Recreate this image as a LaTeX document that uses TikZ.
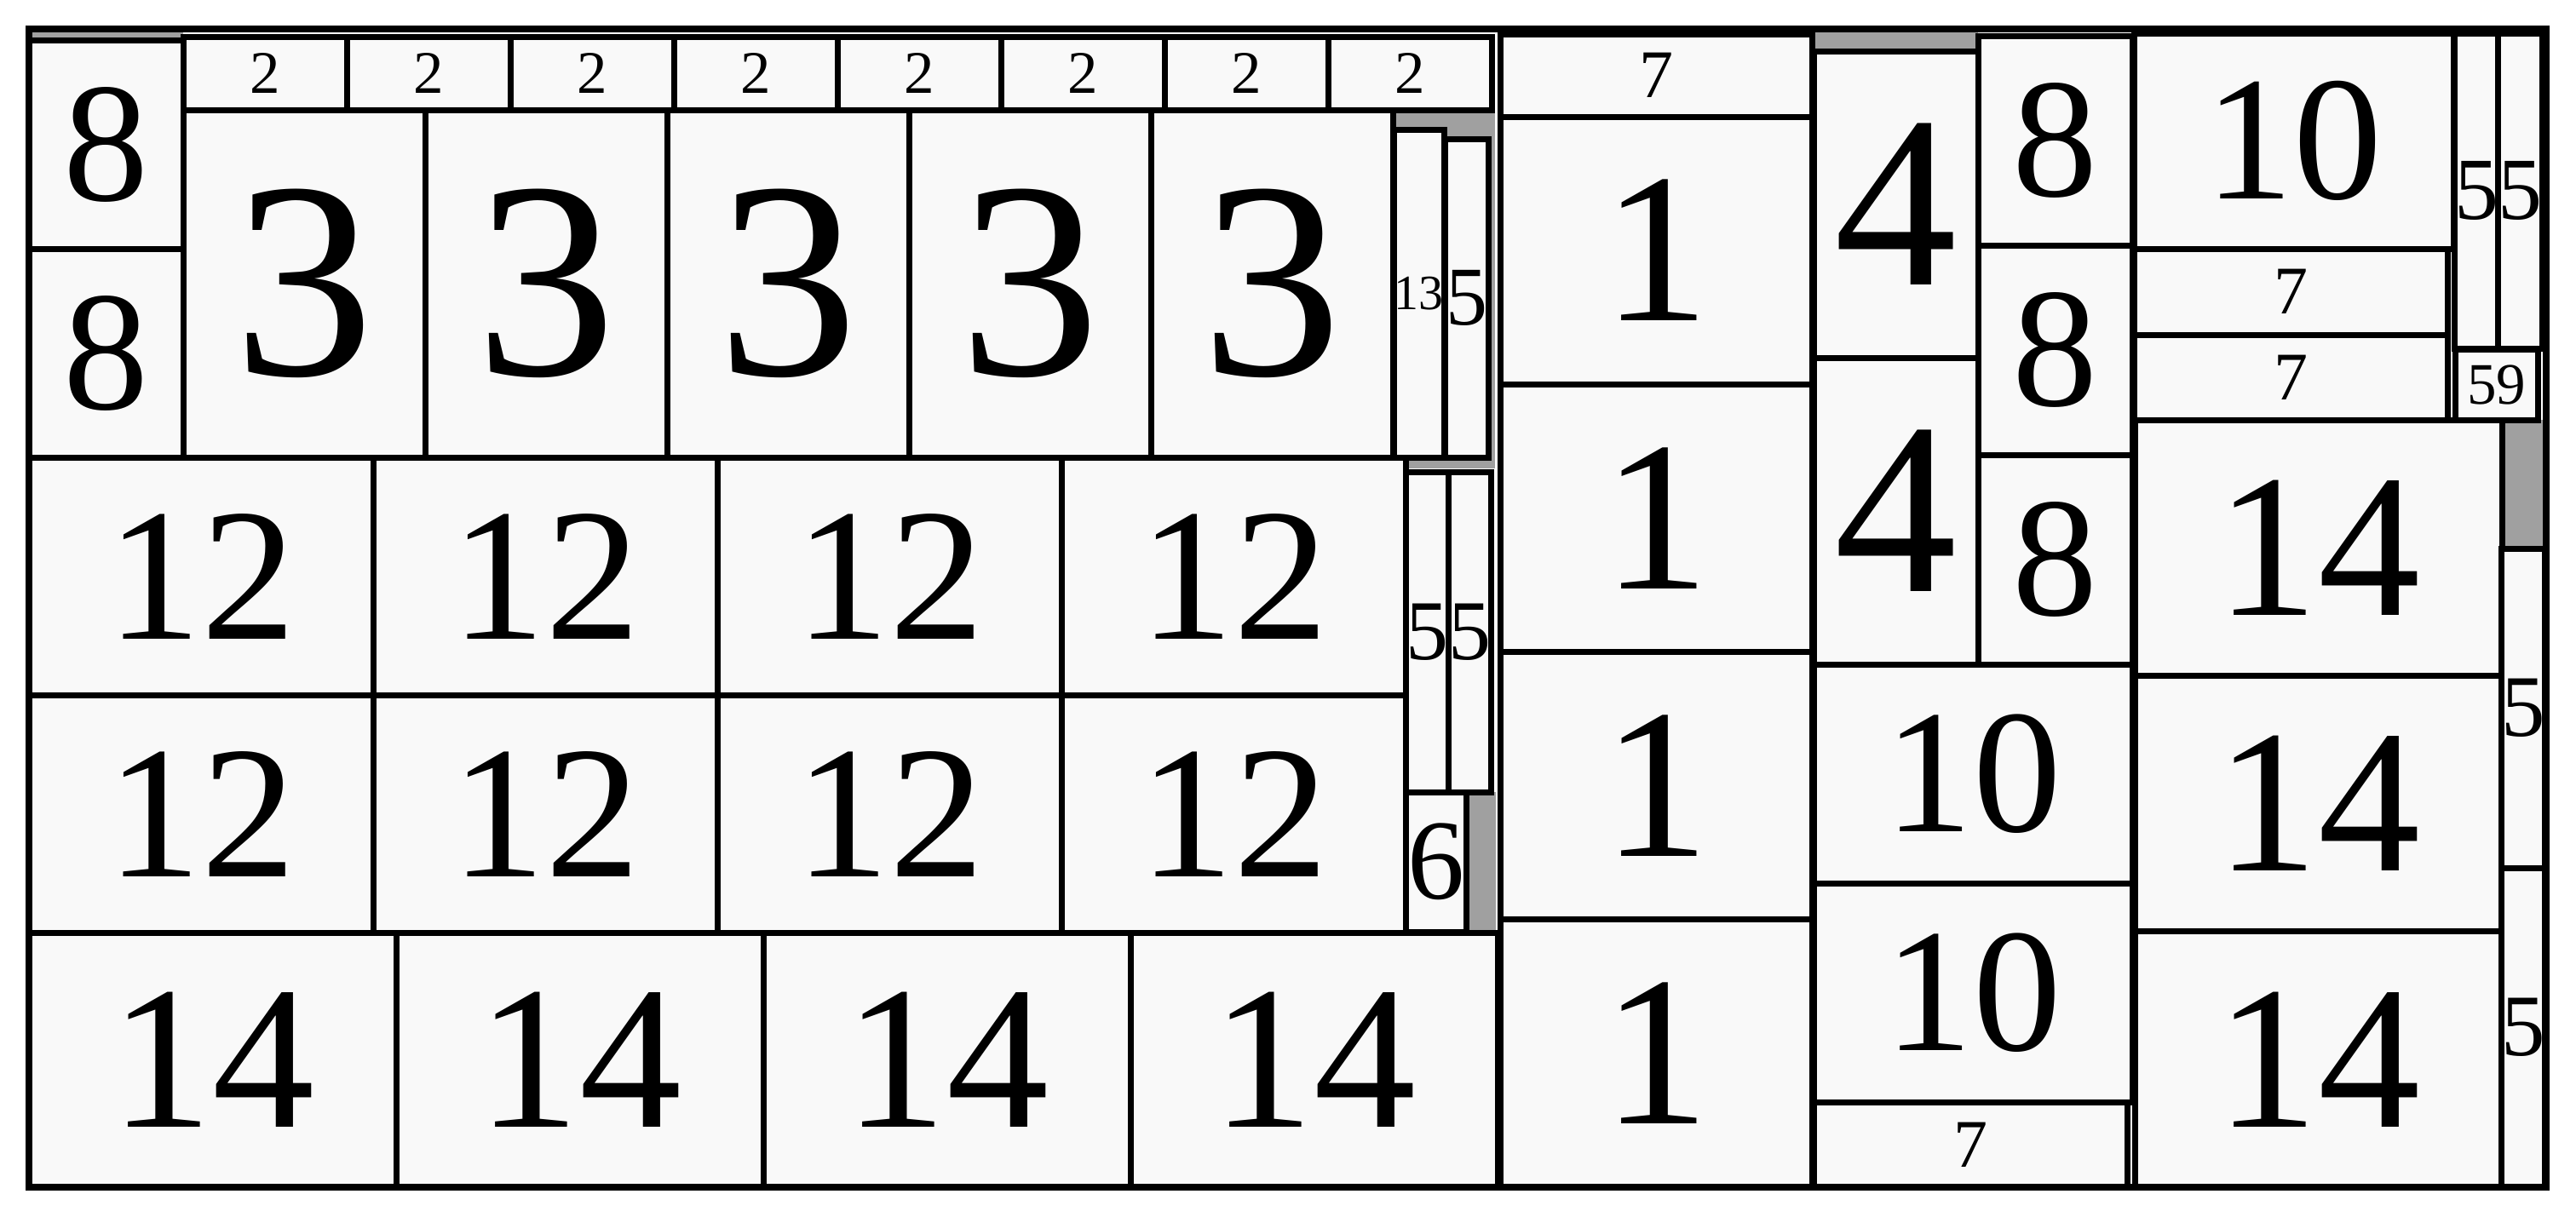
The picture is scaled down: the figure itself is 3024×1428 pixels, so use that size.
\documentclass[tikz,border=0pt]{standalone}
\usepackage{fontspec}
\setmainfont{Liberation Serif}
\newfontfamily\cellfont{Liberation Serif}
\definecolor{cellfill}{RGB}{249,249,249}
\definecolor{blank}{RGB}{160,160,160}
\tikzset{
	cell/.style n args={5}{draw, fill=cellfill, line width=7pt, inner sep=0pt,
		font=\cellfont\fontsize{#5}{#5}\selectfont,
		minimum width={((#3)-(#1))*1pt}, minimum height={((#4)-(#2))*1pt},
		at={({((#1)+(#3))/2},{((#2)+(#4))/2})}},
}
\begin{document}
\begin{tikzpicture}[x=1pt, y=-1pt]
		\path[use as bounding box, fill=white] (0,0) rectangle (3024,1428);
		
		% Blanks
		\fill[blank] (34,36) rectangle (215,47);
		\fill[blank] (1635,132) rectangle (1755,550);
		\fill[blank] (1721,930) rectangle (1756,1094);
		\fill[blank] (2129,36) rectangle (2322,60);
		\fill[blank] (2937,493) rectangle (2987,644);
		
		% Nodes, left block
		\node[cell={34}{47}{215}{292}{200}] (e1) {8};
		\node[cell={34}{292}{215}{537}{200}] (e2) {8};
		\foreach \i in {0,...,7}
			\node[cell={215+192*\i}{43}{407+192*\i}{129}{71}] (two\i) {2};
		\foreach \i in {0,...,4}
			\node[cell={215+284*\i}{129}{499+284*\i}{537}{330}] (three\i) {3};
		\node[cell={1636}{152}{1695}{537}{58}] (thirteen) {13};
		\node[cell={1696}{163}{1747}{537}{98}] (f1) {5};
		\foreach \i in {0,...,3}
			\foreach \j in {0,1}
				\node[cell={34+404*\i}{537+279*\j}{438+404*\i}{816+279*\j}{222}] (twelve\i\j) {12};
		\node[cell={1650}{554}{1700}{930}{100}] (f2) {5};
		\node[cell={1700}{554}{1750}{930}{100}] (f3) {5};
		\node[cell={1650}{930}{1721}{1094}{134}] (six) {6};
		\foreach \i in {0,...,3}
			\node[cell={34+431*\i}{1095}{465+431*\i}{1394}{240}] (fourteen\i) {14};
		
		% Nodes, right block
		\node[cell={1761}{40}{2127}{137}{80}] (s1) {7};
		\foreach \i in {0,...,3}
			\node[cell={1761}{137+314.25*\i}{2127}{451.25+314.25*\i}{251}] (one\i) {1};
		\node[cell={2129}{60}{2322}{420}{288}] (four1) {4};
		\node[cell={2129}{420}{2322}{780}{288}] (four2) {4};
		\foreach \i in {0,1,2}
			\node[cell={2322}{42+246*\i}{2503}{288+246*\i}{200}] (eight\i) {8};
		\node[cell={2129}{780}{2503}{1037}{207}] (ten1) {10};
		\node[cell={2129}{1037}{2503}{1294}{207}] (ten2) {10};
		\node[cell={2129}{1294}{2497}{1394}{80}] (s2) {7};
		\node[cell={2505}{39}{2880}{292}{208}] (ten3) {10};
		\node[cell={2505}{292}{2873}{393}{80}] (s3) {7};
		\node[cell={2505}{393}{2873}{493}{80}] (s4) {7};
		\node[cell={2882}{39}{2933}{409}{104}] (f4) {5};
		\node[cell={2933}{39}{2984}{409}{104}] (f5) {5};
		\node[cell={2882}{410}{2979}{493}{69}] (ff) {59};
		\foreach \i in {0,1,2}
			\node[cell={2506}{493+300.33*\i}{2937}{793.33+300.33*\i}{240}] (fr\i) {14};
		\node[cell={2937}{644}{2987}{1019}{103}] (f6) {5};
		\node[cell={2937}{1019}{2987}{1394}{103}] (f7) {5};
		
		% Frame
		\draw[line width=8pt] (34,34) rectangle (2989,1394);
		
	\end{tikzpicture}
\end{document}
